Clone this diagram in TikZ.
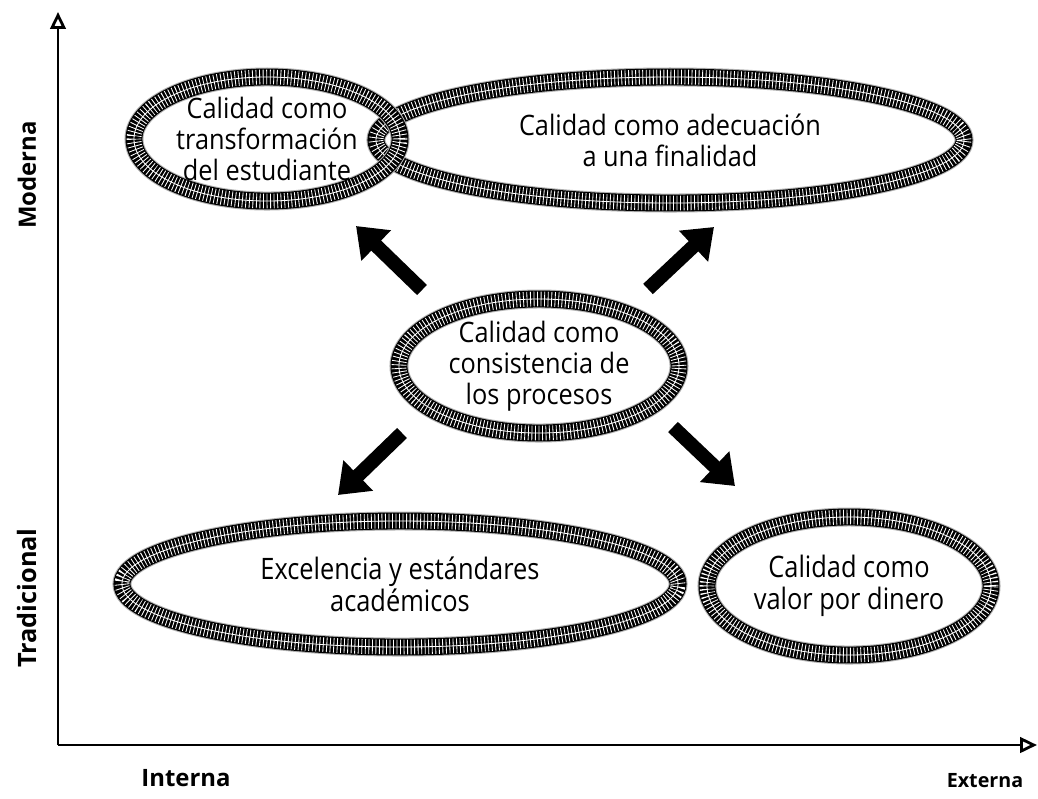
\documentclass[tikz,border=0pt]{standalone}
\usepackage{fontspec}
\setmainfont{Open Sans}
\newfontfamily\narrowfont[FakeStretch=0.9]{Open Sans}
\newfontfamily\lowfont[FakeStretch=0.86]{Open Sans}
\usepackage{tikz}
\usetikzlibrary{positioning}
\usetikzlibrary{shapes.geometric,arrows.meta}

\begin{document}
\begin{tikzpicture}[x=0.025cm, y=-0.025cm,
        every node/.style = {align=center, font=\narrowfont\fontsize{20}{22}\selectfont},
        bajo/.style = {font=\lowfont\fontsize{21}{23}\selectfont},
        calidad/.style = {ellipse, inner sep=0pt, draw=black!30, line width=13.5pt,
          postaction={draw=black, line width=12pt},
          postaction={draw=white, line width=10.5pt, dash pattern=on 0.6pt off 1.9pt},
          postaction={draw=white, line width=0.6pt}},
        flecha/.style = {line width=10pt, -{Triangle[length=20pt,width=29pt]}},
        eje/.style = {line width=2pt, -{Triangle[open,length=12pt,width=11pt]}},
        rotulo/.style = {font=\fontsize{17}{20}\selectfont\bfseries}
        ]
        \useasboundingbox (0,0) rectangle (1038,798);
        \coordinate (o) at (58,745);
        \coordinate (ytop) at (58,12);
        \coordinate (xend) at (1037,745);
        \draw[eje] (o) -- (ytop);
        \draw[eje] (o) -- (xend);
        \node (moderna) [rotulo, rotate=90] at (27,175) {Moderna};
        \node (tradicional) [rotulo, rotate=90, font=\fontsize{18}{20}\selectfont\bfseries] at (27,598) {Tradicional};
        \node (interna) [rotulo] at (186,778) {Interna};
        \node (externa) [rotulo, font=\fontsize{14}{17}\selectfont\bfseries] at (985,781) {Externa};
        \node (adec) [calidad, minimum width=14.7cm, minimum height=3.15cm] at (670,140) {Calidad como adecuación\\a una finalidad};
        \node (trans) [calidad, minimum width=6.65cm, minimum height=3.1cm] at (267,139) {Calidad como\\transformación\\del estudiante};
        \node (proc) [calidad, minimum width=7cm, minimum height=3.35cm] at (539,366) {Calidad como\\consistencia de\\los procesos};
        \node (exce) [calidad, bajo, minimum width=13.9cm, minimum height=3.15cm] at (400,584) {Excelencia y estándares\\académicos};
        \node (valor) [calidad, bajo, minimum width=7.1cm, minimum height=3.45cm] at (849,586) {Calidad como\\valor por dinero};
        \coordinate (a1) at (422,290);
        \coordinate (b1) at (356,226);
        \coordinate (a2) at (648,289);
        \coordinate (b2) at (714,227);
        \coordinate (a3) at (402,433);
        \coordinate (b3) at (338,495);
        \coordinate (a4) at (673,427);
        \coordinate (b4) at (735,486);
        \draw[flecha] (a1) -- (b1);
        \draw[flecha] (a2) -- (b2);
        \draw[flecha] (a3) -- (b3);
        \draw[flecha] (a4) -- (b4);
        \end{tikzpicture}
\end{document}
